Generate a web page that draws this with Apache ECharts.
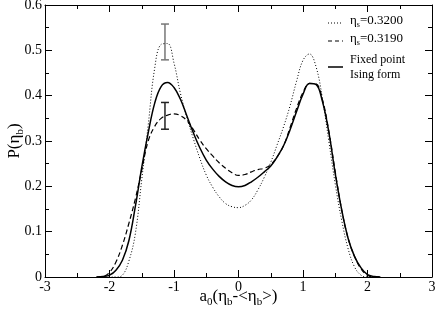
<!DOCTYPE html>
<html><head><meta charset="utf-8">
<script src="https://cdn.jsdelivr.net/npm/echarts@6/dist/echarts.min.js"></script>
<style>html,body{margin:0;padding:0;background:#fff}#c{width:436px;height:314px}</style>
</head><body><div id="c"></div>
<script>
// Data
const xs = [-2.2,-2.1,-2.0,-1.9,-1.8,-1.7,-1.6,-1.5,-1.4,-1.3,-1.2,-1.1,-1.0,-0.9,-0.8,-0.7,-0.6,-0.5,-0.4,-0.3,-0.2,-0.1,0,0.1,0.2,0.3,0.4,0.5,0.6,0.7,0.8,0.9,1.0,1.1,1.2,1.3,1.4,1.5,1.6,1.7,1.8,1.9,2.0,2.1,2.2];
const eta3200 = [0,0,0,0,0.004,0.035,0.095,0.215,0.335,0.46,0.513,0.515,0.472,0.405,0.352,0.305,0.262,0.225,0.198,0.177,0.162,0.155,0.153,0.158,0.17,0.192,0.22,0.253,0.292,0.332,0.378,0.432,0.478,0.492,0.465,0.395,0.3,0.205,0.125,0.062,0.022,0.004,0,0,0];
const eta3190 = [0,0.001,0.01,0.033,0.07,0.118,0.172,0.236,0.3,0.332,0.35,0.357,0.36,0.356,0.345,0.325,0.302,0.283,0.267,0.252,0.24,0.23,0.224,0.226,0.232,0.237,0.24,0.248,0.265,0.29,0.33,0.372,0.407,0.427,0.426,0.392,0.322,0.232,0.148,0.085,0.045,0.018,0.004,0,0];
const ising = [0,0.001,0.004,0.015,0.037,0.08,0.155,0.242,0.318,0.383,0.42,0.429,0.418,0.392,0.355,0.318,0.285,0.258,0.238,0.222,0.21,0.202,0.199,0.202,0.21,0.22,0.232,0.245,0.265,0.29,0.325,0.365,0.403,0.427,0.425,0.388,0.32,0.228,0.148,0.085,0.045,0.02,0.005,0.001,0];
const errX = [-1.14, -1.14];
const errLow = [0.479, 0.326];
const errHigh = [0.558, 0.385];
const errColors = ['#777', '#222'];

const pairs = arr => xs.map((x,i)=>[x,arr[i]]);
const font = 'Liberation Serif';
const axisCommon = () => ({
  type:'value', axisLine:{show:true,onZero:false,lineStyle:{color:'#000',width:1}},
  axisTick:{show:true,inside:true,length:7,lineStyle:{color:'#000'}},
  minorTick:{show:true,splitNumber:2,length:4,lineStyle:{color:'#000'}},
  splitLine:{show:false}, minorSplitLine:{show:false}
});
const chart = echarts.init(document.getElementById('c'));
chart.setOption({
  animation:false,
  backgroundColor:'#fff',
  grid:{left:45,right:4,top:5,bottom:37,containLabel:false,outerBoundsMode:'none'},
  xAxis:[
    Object.assign(axisCommon(), {min:-3,max:3,interval:1,position:'bottom',
      axisLabel:{fontFamily:font,fontSize:14,color:'#000',margin:3,formatter:v=>String(v)},
      name:'{n|a}{s|0}{n|(η}{s|b}{n|-<η}{s|b}{n|>)}',nameLocation:'middle',nameGap:9,nameMoveOverlap:false,
      nameTextStyle:{fontFamily:font,color:'#000',verticalAlign:'top',rich:{
        n:{fontFamily:font,fontSize:17,lineHeight:22,color:'#000'},
        s:{fontFamily:font,fontSize:11,lineHeight:12,verticalAlign:'bottom',color:'#000'}}}}),
    Object.assign(axisCommon(), {min:-3,max:3,interval:1,position:'top',axisLabel:{show:false}})
  ],
  yAxis:[
    Object.assign(axisCommon(), {min:0,max:0.6,interval:0.1,position:'left',
      axisLabel:{fontFamily:font,fontSize:14,color:'#000',margin:3,formatter:v=>String(+v.toFixed(1))},
      name:'{n|P(η}{s|b}{n|)}',nameLocation:'middle',nameGap:19,nameRotate:90,nameMoveOverlap:false,
      nameTextStyle:{fontFamily:font,color:'#000',rich:{
        n:{fontFamily:font,fontSize:17,lineHeight:22,color:'#000'},
        s:{fontFamily:font,fontSize:11,lineHeight:12,verticalAlign:'bottom',color:'#000'}}}}),
    Object.assign(axisCommon(), {min:0,max:0.6,interval:0.1,position:'right',axisLabel:{show:false}})
  ],
  series:[
    {name:'eta3200',type:'line',data:pairs(eta3200),smooth:0.4,showSymbol:false,
      lineStyle:{color:'#000',width:1,type:[1,2]}},
    {name:'eta3190',type:'line',data:pairs(eta3190),smooth:0.4,showSymbol:false,
      lineStyle:{color:'#000',width:1.2,type:[5,3]}},
    {name:'ising',type:'line',data:pairs(ising),smooth:0.4,showSymbol:false,
      lineStyle:{color:'#000',width:1.5}},
    {name:'err',type:'custom',data:errX.map((x,i)=>[x,errLow[i],errHigh[i],i]),
      renderItem:(params,api)=>{
        const lo=api.coord([api.value(0),api.value(1)]);
        const hi=api.coord([api.value(0),api.value(2)]);
        const c=errColors[api.value(3)];
        const w=4;
        const st={stroke:c,lineWidth:1.5};
        return {type:'group',children:[
          {type:'line',shape:{x1:lo[0],y1:lo[1],x2:hi[0],y2:hi[1]},style:st},
          {type:'line',shape:{x1:lo[0]-w,y1:lo[1],x2:lo[0]+w,y2:lo[1]},style:st},
          {type:'line',shape:{x1:hi[0]-w,y1:hi[1],x2:hi[0]+w,y2:hi[1]},style:st}
        ]};
      }}
  ],
  graphic:[
    {type:'line',shape:{x1:328,y1:23,x2:343,y2:23},style:{stroke:'#000',lineWidth:1,lineDash:[1,2]}},
    {type:'line',shape:{x1:328,y1:41,x2:343,y2:41},style:{stroke:'#000',lineWidth:1.2,lineDash:[4,3]}},
    {type:'line',shape:{x1:328,y1:67,x2:343,y2:67},style:{stroke:'#000',lineWidth:1.5}},
    {type:'text',left:350,top:14,style:{text:'{n|η}{s|s}{n|=0.3200}',rich:{
      n:{fontFamily:font,fontSize:13,lineHeight:16,fill:'#000'},
      s:{fontFamily:font,fontSize:8,lineHeight:8,verticalAlign:'bottom',fill:'#000'}}}},
    {type:'text',left:350,top:32,style:{text:'{n|η}{s|s}{n|=0.3190}',rich:{
      n:{fontFamily:font,fontSize:13,lineHeight:16,fill:'#000'},
      s:{fontFamily:font,fontSize:8,lineHeight:8,verticalAlign:'bottom',fill:'#000'}}}},
    {type:'text',left:350,top:52,style:{text:'Fixed point\nIsing form',font:'12px "Liberation Serif"',lineHeight:15,fill:'#000'}}
  ]
});
</script></body></html>
